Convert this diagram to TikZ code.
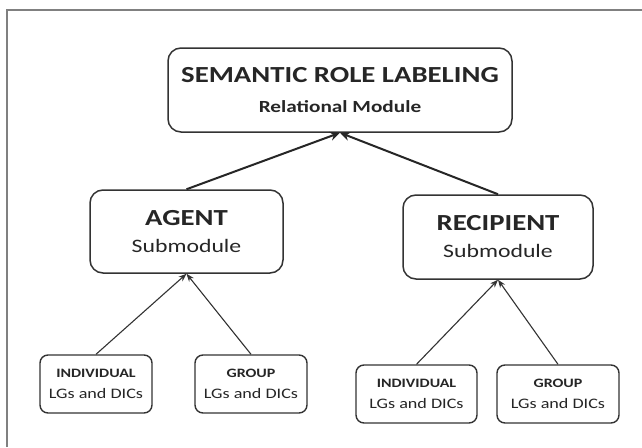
\documentclass[tikz,border=0pt]{standalone}
\usepackage{fontspec}
\setmainfont{Carlito}[FakeStretch=1.25]
\usetikzlibrary{arrows.meta}
\definecolor{boxline}{HTML}{333333}
\definecolor{frameline}{HTML}{808080}
\definecolor{txt}{HTML}{262626}
\tikzset{
  bigbox/.style={draw=boxline, line width=1.5pt, rounded corners=13pt, align=center, inner sep=0pt, text=txt},
  smallbox/.style={draw=boxline, line width=1.4pt, rounded corners=8pt, align=center, inner sep=0pt, text=txt},
  thickarrow/.style={draw=black!85, line width=2pt, -{Stealth[length=10pt,width=9pt]}},
  thinarrow/.style={draw=black!80, line width=1.1pt, -{Stealth[length=8pt,width=6pt]}},
  lowfont/.style={font=\fontsize{10}{21}\selectfont},
}
\newcommand{\toptitle}{\fontsize{23}{27}\selectfont\bfseries}
\newcommand{\topsub}{\fontsize{17}{20}\selectfont\bfseries}
\newcommand{\midtitle}{\fontsize{23}{27}\selectfont\bfseries}
\newcommand{\midsub}{\fontsize{19}{22}\selectfont}
\newcommand{\lowtitle}{\fontsize{12.8}{15}\selectfont\bfseries}
\newcommand{\lowsub}{\fontsize{14.5}{17}\selectfont}
\begin{document}
\begin{tikzpicture}[x=1pt,y=-1pt]
\useasboundingbox (0,0) rectangle (642,447);
\fill[white] (0,0) rectangle (642,447);
\draw[frameline, line width=1.5pt] (7,447) -- (7,10) -- (642,10);

\node[bigbox, minimum width=344pt, minimum height=84pt, font=\fontsize{10}{30}\selectfont] (srl) at (340,90)
  {{\toptitle SEMANTIC ROLE LABELING}\\
   {\topsub Relational Module}};

\node[bigbox, minimum width=193pt, minimum height=83pt, font=\fontsize{10}{27}\selectfont] (agent) at (186.5,231.5)
  {{\midtitle AGENT}\\
   {\midsub Submodule}};

\node[bigbox, minimum width=190pt, minimum height=84pt, font=\fontsize{10}{27}\selectfont] (recip) at (498,237)
  {{\midtitle RECIPIENT}\\
   {\midsub Submodule}};

\node[smallbox, lowfont, minimum width=112pt, minimum height=58pt] (ind1) at (96,384)
  {{\lowtitle INDIVIDUAL}\\
   {\lowsub LGs and DICs}};
\node[smallbox, lowfont, minimum width=112pt, minimum height=58pt] (grp1) at (251,384)
  {{\lowtitle GROUP}\\
   {\lowsub LGs and DICs}};
\node[smallbox, lowfont, minimum width=121pt, minimum height=58pt] (ind2) at (416.5,394)
  {{\lowtitle INDIVIDUAL}\\
   {\lowsub LGs and DICs}};
\node[smallbox, lowfont, minimum width=122pt, minimum height=58pt] (grp2) at (558,394)
  {{\lowtitle GROUP}\\
   {\lowsub LGs and DICs}};

\draw[thickarrow] (agent.north) -- (srl.south);
\draw[thickarrow] (recip.north) -- (srl.south);
\draw[thinarrow] (ind1.north) -- (agent.south);
\draw[thinarrow] (grp1.north) -- (agent.south);
\draw[thinarrow] (ind2.north) -- (recip.south);
\draw[thinarrow] (grp2.north) -- (recip.south);
\end{tikzpicture}
\end{document}
